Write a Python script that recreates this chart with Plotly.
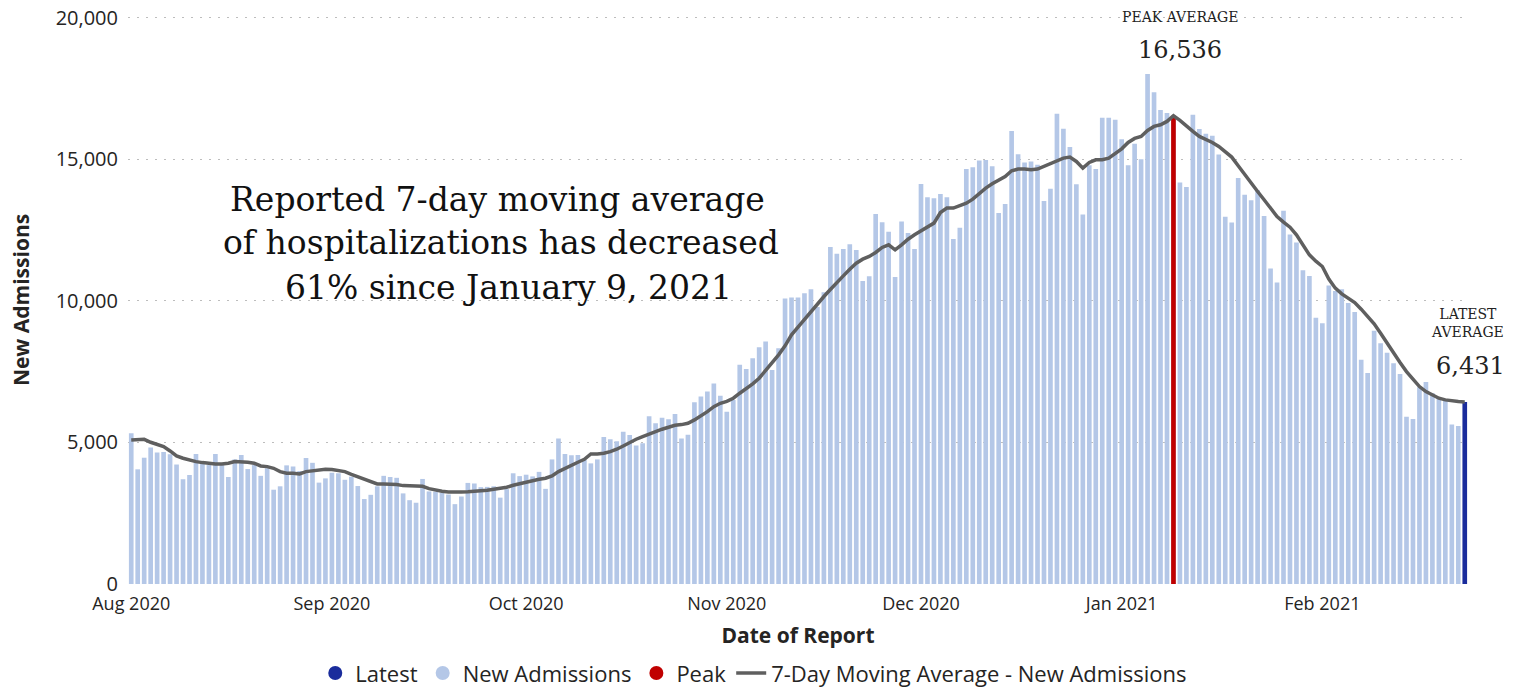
import pandas as pd
import plotly.graph_objects as go

# ---------------- data ----------------
start_date = "2020-08-01"

adm_aug = [5320, 4050, 4460, 4820, 4640, 4660, 4580, 4220, 3700, 3850, 4590, 4270, 4200, 4590, 4200, 3780,
           4400, 4560, 4060, 4200, 3820, 4090, 3330, 3450, 4190, 4150, 3990, 4450, 4280, 3580, 3730]
adm_sep = [3930, 3910, 3680, 3790, 3460, 3000, 3150, 3450, 3820, 3780, 3750, 3200, 2960, 2870, 3710,
           3270, 3260, 3230, 3160, 2820, 3090, 3570, 3550, 3420, 3430, 3450, 3050, 3350, 3910, 3810]
adm_oct = [3860, 3800, 3960, 3360, 4400, 5140, 4590, 4550, 4560, 4380, 4260, 4400, 5190, 5110, 5040, 5380,
           5260, 4890, 4970, 5920, 5680, 5870, 5820, 6000, 5140, 5270, 6420, 6620, 6800, 7080, 6650]
adm_nov = [6080, 6500, 7740, 7590, 7970, 8360, 8560, 7560, 8330, 10080, 10120, 10120, 10270, 10410, 9780,
           10300, 11900, 11660, 11830, 12000, 11800, 10700, 10870, 13070, 12780, 12440, 10840, 12800, 12400, 11830]
adm_dec = [14130, 13660, 13620, 13770, 13660, 12180, 12580, 14660, 14720, 14960, 14970, 14750, 13100, 13420,
           16000, 15180, 14890, 14920, 14810, 13530, 13960, 16610, 16080, 15430, 14120, 13050, 14790, 14660,
           16470, 16470, 16400]
adm_jan = [15710, 14790, 15550, 15000, 18010, 17370, 16740, 16630, 16450, 14180, 14020, 16570, 16070, 15900,
           15830, 15170, 12970, 12770, 14340, 13750, 13550, 13910, 13000, 11140, 10650, 13180, 12340, 12060,
           11080, 10880, 9400]
adm_feb = [9210, 10540, 10350, 10410, 9920, 9610, 7920, 7450, 8940, 8500, 8170, 7800, 7420, 5910, 5830,
           6950, 7130, 6740, 6600, 6500, 5630, 5580]

avg_aug = [5088, 5110, 5110, 5006, 4935, 4852, 4700, 4523, 4441, 4370, 4322, 4287, 4251, 4240, 4240, 4264,
           4322, 4322, 4299, 4264, 4170, 4146, 4087, 3969, 3910, 3910, 3887, 3969, 3993, 4028, 4052]
avg_sep = [4040, 4017, 3969, 3875, 3793, 3698, 3616, 3534, 3534, 3534, 3510, 3475, 3463, 3439, 3451,
           3369, 3310, 3274, 3251, 3239, 3251, 3262, 3274, 3298, 3310, 3345, 3369, 3416, 3487, 3545]
avg_oct = [3604, 3650, 3698, 3734, 3816, 3969, 4087, 4193, 4299, 4405, 4594, 4594, 4618, 4676, 4759, 4876,
           5010, 5112, 5206, 5300, 5383, 5466, 5536, 5607, 5630, 5677, 5795, 5936, 6088, 6265, 6383]
avg_nov = [6450, 6561, 6738, 6890, 7067, 7267, 7538, 7798, 8092, 8410, 8799, 9070, 9353, 9623, 9894,
           10153, 10400, 10625, 10883, 11119, 11331, 11472, 11567, 11708, 11885, 11979, 11802, 11979, 12178, 12332]
avg_dec = [12470, 12600, 12745, 13121, 13275, 13275, 13369, 13451, 13592, 13805, 13981, 14134, 14276, 14393,
           14594, 14653, 14653, 14629, 14653, 14746, 14829, 14923, 15041, 15077, 14923, 14688, 14888, 14982,
           14982, 15041, 15218]
avg_jan = [15370, 15594, 15736, 15806, 16018, 16160, 16219, 16337, 16536, 16372, 16160, 15983, 15806, 15712,
           15594, 15453, 15276, 15077, 14770, 14452, 14134, 13863, 13569, 13297, 12980, 12780, 12603, 12332,
           11979, 11625, 11400]
avg_feb = [11213, 10767, 10448, 10247, 10094, 9940, 9705, 9446, 9187, 8858, 8504, 8151, 7820, 7503, 7233,
           6973, 6797, 6678, 6561, 6502, 6466, 6442, 6431]

peak_date = "2021-01-09"
peak_avg = 16536
latest_date = "2021-02-23"
latest_avg = 6431

y_ticks = [0, 5000, 10000, 15000, 20000]
y_tick_labels = ["0", "5,000", "10,000", "15,000", "20,000"]

headline = ["Reported 7-day moving average",
            "of hospitalizations has decreased",
            "61% since January 9, 2021"]

# ---------------- assemble ----------------
admissions = adm_aug + adm_sep + adm_oct + adm_nov + adm_dec + adm_jan + adm_feb
moving_avg = avg_aug + avg_sep + avg_oct + avg_nov + avg_dec + avg_jan + avg_feb
adm_dates = pd.date_range(start_date, periods=len(admissions), freq="D")
avg_dates = pd.date_range(start_date, periods=len(moving_avg), freq="D")

DAY_MS = 86400000
BAR_W = 0.72 * DAY_MS
Y_TOP = 20060  # a hair above 20,000 so the top gridline is not clipped at the plot edge

C_LIGHT = "#B4C7E7"
C_PEAK = "#C00000"
C_LATEST = "#1A2C9C"
C_LINE = "#5F5F5F"
TXT = "#252423"
SANS = "Open Sans, Noto Sans, sans-serif"
SERIF = "DejaVu Serif, Liberation Serif, serif"

fig = go.Figure()

fig.add_trace(go.Bar(x=adm_dates, y=admissions, name="New Admissions", marker_color=C_LIGHT,
                     marker_line_width=0, width=BAR_W, showlegend=False))
fig.add_trace(go.Bar(x=[pd.Timestamp(peak_date)], y=[peak_avg], name="Peak", marker_color=C_PEAK,
                     marker_line_width=0, width=BAR_W, showlegend=False))
fig.add_trace(go.Bar(x=[pd.Timestamp(latest_date)], y=[latest_avg], name="Latest", marker_color=C_LATEST,
                     marker_line_width=0, width=BAR_W, showlegend=False))
fig.add_trace(go.Scatter(x=avg_dates, y=moving_avg, mode="lines", name="7-Day Moving Average - New Admissions",
                         line=dict(color=C_LINE, width=3.5), legendrank=4))

# legend entries with round markers
for nm, col, rk in [("Latest", C_LATEST, 1), ("New Admissions", C_LIGHT, 2), ("Peak", C_PEAK, 3)]:
    fig.add_trace(go.Scatter(x=[None], y=[None], mode="markers", name=nm,
                             marker=dict(color=col, size=14, symbol="circle"), legendrank=rk))

fig.update_layout(
    width=1524, height=687,
    margin=dict(l=128, r=55.6, t=16.3, b=103, autoexpand=False),
    paper_bgcolor="white", plot_bgcolor="white",
    barmode="overlay",
    font=dict(family=SANS, color=TXT, size=18),
    showlegend=True,
    legend=dict(orientation="h", xref="paper", yref="paper", x=0.467, xanchor="center",
                y=-0.157, yanchor="middle", font=dict(size=22, color=TXT), itemwidth=30,
                traceorder="normal", tracegroupgap=0),
)

fig.update_xaxes(
    type="date", automargin=False,
    range=[pd.Timestamp(start_date) - pd.Timedelta(hours=12),
           pd.Timestamp(latest_date) + pd.Timedelta(hours=12)],
    tick0=start_date, dtick="M1", tickformat="%b %Y",
    ticks="", showgrid=False, zeroline=False, showline=False,
    tickfont=dict(size=18, color=TXT), ticklabelstandoff=7,
    title=dict(text="<b>Date of Report</b>", font=dict(size=21, color=TXT), standoff=14),
)
fig.update_yaxes(
    automargin=False,
    range=[0, Y_TOP], tickvals=y_ticks, ticktext=y_tick_labels, ticklabeloverflow="allow",
    showgrid=True, gridcolor="#BDBDBD", griddash="2px,7px", gridwidth=1,
    zeroline=False, showline=False, ticks="",
    tickfont=dict(size=20, color=TXT), ticklabelstandoff=9,
    title=dict(text="<b>New Admissions</b>", font=dict(size=21, color=TXT), standoff=20),
)

# headline text block
head_pos = [(0.2754, 0.6763), (0.2784, 0.6004), (0.2836, 0.5226)]
for txt, (hx, hy) in zip(headline, head_pos):
    fig.add_annotation(text=txt, xref="paper", yref="paper", x=hx, y=hy, xanchor="center", yanchor="middle",
                       showarrow=False, font=dict(family=SERIF, size=33, color="#111111"))

# peak labels
fig.add_annotation(text="PEAK AVERAGE", xref="x", yref="paper", x=pd.Timestamp(peak_date), y=0.998, xshift=7,
                   xanchor="center", yanchor="middle", showarrow=False,
                   font=dict(family=SERIF, size=14, color="#222222"))
fig.add_annotation(text=f"{peak_avg:,}", xref="x", yref="paper", x=pd.Timestamp(peak_date), y=0.94, xshift=7,
                   xanchor="center", yanchor="middle", showarrow=False,
                   font=dict(family=SERIF, size=24, color="#222222"))
# latest labels
fig.add_annotation(text="LATEST<br>AVERAGE", xref="x", yref="paper", x=pd.Timestamp(latest_date), y=0.4603,
                   xshift=3, xanchor="center", yanchor="middle", showarrow=False,
                   font=dict(family=SERIF, size=14, color="#222222"))
fig.add_annotation(text=f"{latest_avg:,}", xref="x", yref="paper", x=pd.Timestamp(latest_date), y=0.3834,
                   xshift=6, xanchor="center", yanchor="middle", showarrow=False,
                   font=dict(family=SERIF, size=24, color="#222222"))

# remove the browser's default 8px page margin so the 1524x687 figure fills the window exactly
fig.write_html("out.html", config={"displayModeBar": False},
               post_script="document.body.style.margin='0px';")
